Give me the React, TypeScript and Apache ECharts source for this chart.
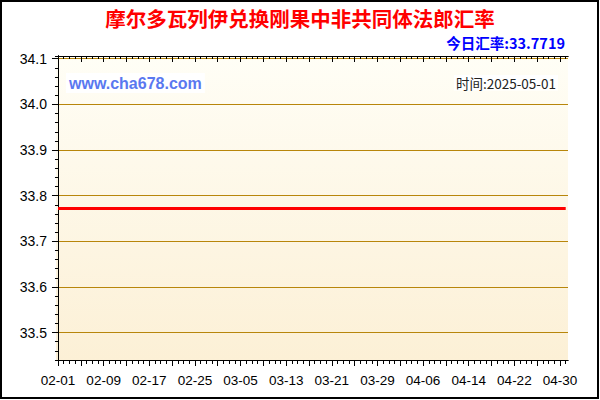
import React from "react";
import * as echarts from "echarts";

// ---------- Data ----------
const dates = [
  "02-01", "02-02", "02-03", "02-04", "02-05", "02-06", "02-07", "02-08", "02-09", "02-10",
  "02-11", "02-12", "02-13", "02-14", "02-15", "02-16", "02-17", "02-18", "02-19", "02-20",
  "02-21", "02-22", "02-23", "02-24", "02-25", "02-26", "02-27", "02-28",
  "03-01", "03-02", "03-03", "03-04", "03-05", "03-06", "03-07", "03-08", "03-09", "03-10",
  "03-11", "03-12", "03-13", "03-14", "03-15", "03-16", "03-17", "03-18", "03-19", "03-20",
  "03-21", "03-22", "03-23", "03-24", "03-25", "03-26", "03-27", "03-28", "03-29", "03-30", "03-31",
  "04-01", "04-02", "04-03", "04-04", "04-05", "04-06", "04-07", "04-08", "04-09", "04-10",
  "04-11", "04-12", "04-13", "04-14", "04-15", "04-16", "04-17", "04-18", "04-19", "04-20",
  "04-21", "04-22", "04-23", "04-24", "04-25", "04-26", "04-27", "04-28", "04-29", "04-30",
  "05-01",
];

const rates = [
  33.7719, 33.7719, 33.7719, 33.7719, 33.7719, 33.7719, 33.7719, 33.7719, 33.7719, 33.7719,
  33.7719, 33.7719, 33.7719, 33.7719, 33.7719, 33.7719, 33.7719, 33.7719, 33.7719, 33.7719,
  33.7719, 33.7719, 33.7719, 33.7719, 33.7719, 33.7719, 33.7719, 33.7719,
  33.7719, 33.7719, 33.7719, 33.7719, 33.7719, 33.7719, 33.7719, 33.7719, 33.7719, 33.7719,
  33.7719, 33.7719, 33.7719, 33.7719, 33.7719, 33.7719, 33.7719, 33.7719, 33.7719, 33.7719,
  33.7719, 33.7719, 33.7719, 33.7719, 33.7719, 33.7719, 33.7719, 33.7719, 33.7719, 33.7719, 33.7719,
  33.7719, 33.7719, 33.7719, 33.7719, 33.7719, 33.7719, 33.7719, 33.7719, 33.7719, 33.7719,
  33.7719, 33.7719, 33.7719, 33.7719, 33.7719, 33.7719, 33.7719, 33.7719, 33.7719, 33.7719,
  33.7719, 33.7719, 33.7719, 33.7719, 33.7719, 33.7719, 33.7719, 33.7719, 33.7719, 33.7719,
  33.7719,
];

const yTicks = [33.5, 33.6, 33.7, 33.8, 33.9, 34.0, 34.1];
const xLabelIdx = [0, 8, 16, 24, 32, 40, 48, 56, 64, 72, 80, 88];
const xMajorIdx = [0, 4, 8, 12, 16, 20, 24, 28, 32, 36, 40, 44, 48, 52, 56, 60, 64, 68, 72, 76, 80, 84, 88];

const title = "摩尔多瓦列伊兑换刚果中非共同体法郎汇率";
const todayRate = "今日汇率:33.7719";
const site = "www.cha678.com";
const stamp = "时间:2025-05-01";

const Y_MIN = 33.44;
const Y_MAX = 34.106;
const X_MIN = -0.35;
const X_MAX = 89.4;

const CJK = "'Noto Sans CJK SC', 'Liberation Sans', sans-serif";
const LAT = "'Liberation Sans', Arial, sans-serif";

// ---------- Chart ----------
export default function App() {
  const ref = React.useRef<HTMLDivElement>(null);

  React.useEffect(() => {
    document.body.style.margin = "0";
    const el = ref.current;
    if (!el) return;
    const chart = echarts.init(el, undefined, { renderer: "svg" });

    const allIdx = dates.map((_, i) => i);
    const line = { show: true, lineStyle: { color: "#000", width: 1 } };
    const baseX = { type: "value", min: X_MIN, max: X_MAX, axisLine: line, splitLine: { show: false } };
    const baseY = { type: "value", min: Y_MIN, max: Y_MAX, axisLine: line, splitLine: { show: false } };
    const tick = (len: number, inside: boolean, values?: number[]) => ({
      show: true, length: len, inside, lineStyle: { color: "#000", width: 1 },
      ...(values ? { customValues: values } : {}),
    });

    const option: any = {
      animation: false,
      grid: {
        left: 56, right: 32, top: 56, bottom: 40,
        show: true, borderWidth: 0,
        backgroundColor: new echarts.graphic.LinearGradient(0, 0, 0, 1, [
          { offset: 0, color: "#fffef6" },
          { offset: 1, color: "#fcf0d6" },
        ]),
        outerBoundsMode: "none",
      },
      xAxis: [
        { ...baseX, position: "bottom", axisTick: tick(4, false, allIdx), axisLabel: { show: false } },
        {
          ...baseX, position: "bottom", axisTick: tick(6, false, xMajorIdx),
          axisLabel: {
            customValues: xLabelIdx, formatter: (v: number) => dates[Math.round(v)],
            color: "#000", fontSize: 13.5, fontFamily: LAT, margin: 13,
          },
        },
        { ...baseX, position: "top", axisTick: tick(3, true, allIdx), axisLabel: { show: false } },
        { ...baseX, position: "top", axisTick: tick(6, true, xMajorIdx), axisLabel: { show: false } },
      ],
      yAxis: [
        { ...baseY, position: "left", interval: 0.02, axisTick: tick(3, false), axisLabel: { show: false } },
        {
          ...baseY, position: "left", axisTick: tick(6, false, yTicks),
          axisLabel: {
            customValues: yTicks, formatter: (v: number) => v.toFixed(1),
            color: "#000", fontSize: 14, fontFamily: LAT, margin: 9,
          },
          splitLine: { show: true, lineStyle: { color: "#b8860b", width: 1 } },
        },
        { ...baseY, position: "right", interval: 0.02, axisTick: tick(3, true), axisLabel: { show: false } },
        { ...baseY, position: "right", axisTick: tick(6, true, yTicks), axisLabel: { show: false } },
      ],
      series: [
        {
          type: "line",
          xAxisIndex: 1,
          yAxisIndex: 1,
          data: dates.map((_, i) => [i, rates[i]]),
          showSymbol: false,
          lineStyle: { color: "#ff0000", width: 3 },
          z: 5,
        },
      ],
      graphic: [
        {
          type: "rect", shape: { x: 1, y: 1, width: 597, height: 397 },
          style: { fill: "none", stroke: "#000", lineWidth: 2 }, silent: true,
        },
        {
          type: "text", left: "center", top: 8,
          style: { text: title, fontSize: 20.5, fontWeight: "bold", fill: "#ff0000", fontFamily: CJK },
        },
        {
          type: "text", right: 35, top: 35,
          style: { text: todayRate, fontSize: 14.5, fontWeight: "bold", fill: "#0000ff", fontFamily: CJK },
        },
        {
          type: "text", left: 66, top: 73, z: 10,
          style: {
            text: site, fontSize: 16, fontWeight: "bold", fill: "#5a78f0", fontFamily: LAT,
            backgroundColor: "#ffffff", padding: [2, 3],
          },
        },
        {
          type: "text", right: 42, top: 75, z: 10,
          style: {
            text: stamp, fontSize: 13.5, fill: "#222", fontFamily: CJK,
            backgroundColor: "#ffffff", padding: [1, 2],
          },
        },
      ],
    };

    chart.setOption(option);
    return () => chart.dispose();
  }, []);

  return <div ref={ref} style={{ width: 600, height: 400 }} />;
}
